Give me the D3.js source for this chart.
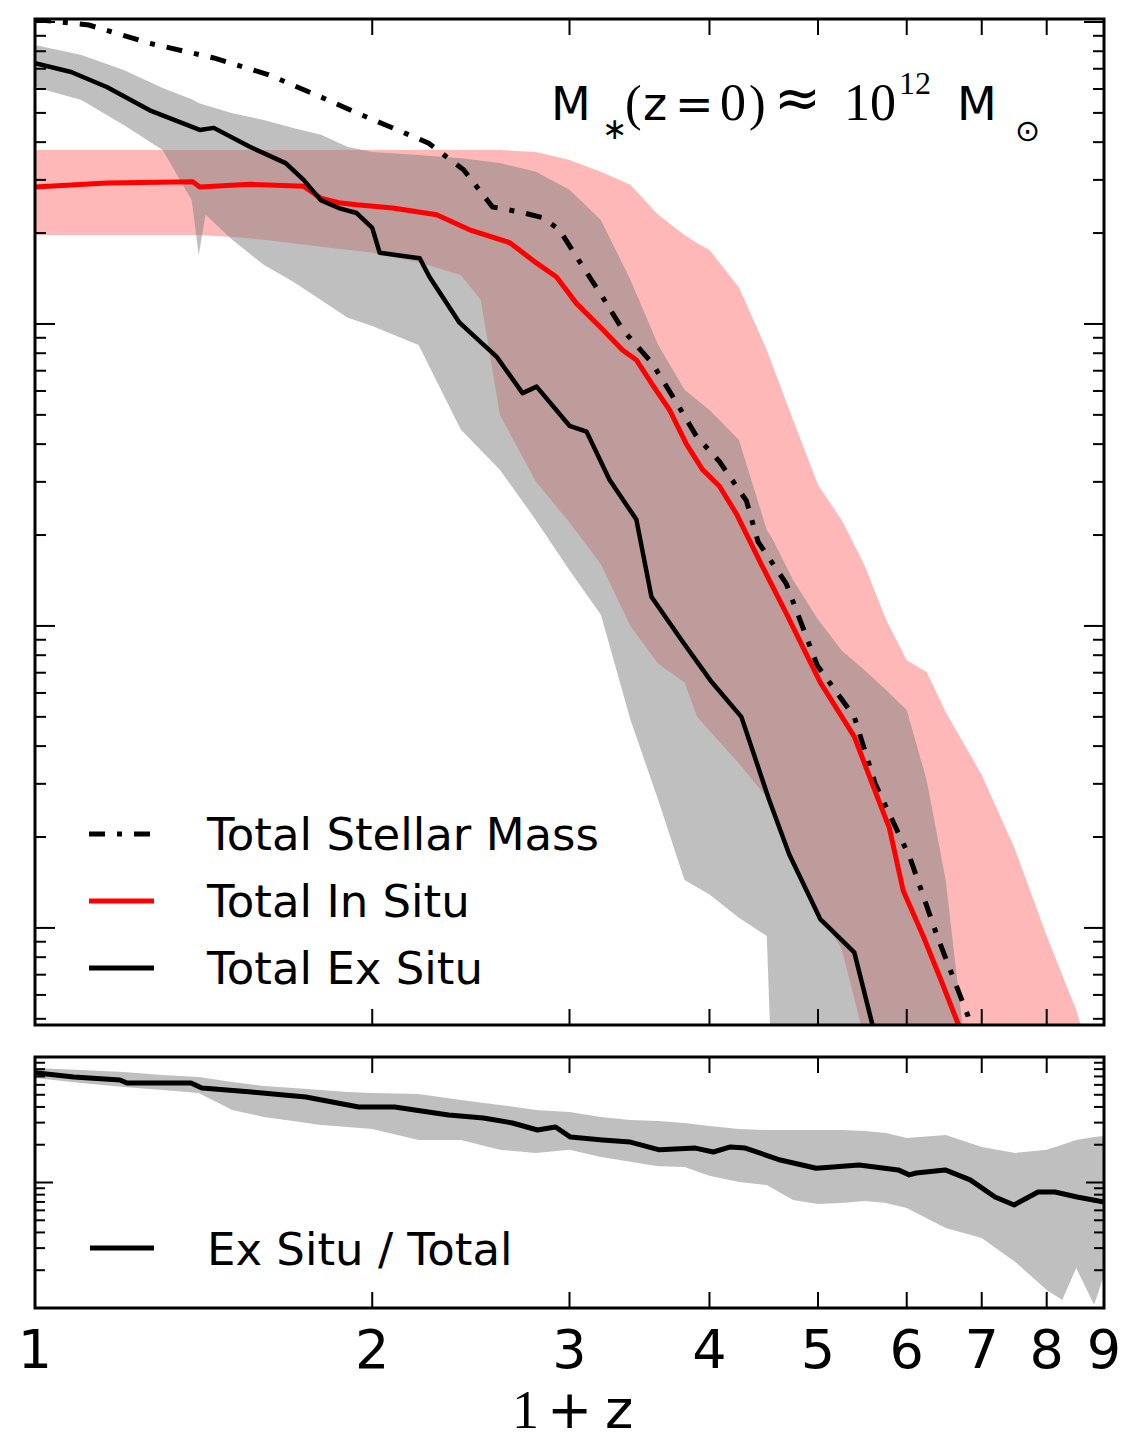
<!DOCTYPE html>
<html>
<head>
<meta charset="utf-8">
<script src="https://cdn.jsdelivr.net/npm/d3@7"></script>
<style>
  body { margin: 0; background: #fff; }
  svg { display: block; }
</style>
</head>
<body>
<svg id="chart"></svg>
<script>
// x is 1+z, masses in units of 1e10 Msun
const totalMass = [
  [1.0, 102], [1.117, 97.7], [1.266, 85], [1.444, 76], [1.614, 67], [1.799, 56.5],
  [1.937, 50], [2.056, 45.6], [2.246, 39.7], [2.413, 32.4], [2.561, 24.4], [2.707, 23.5],
  [2.838, 22.5], [2.939, 20.5], [3.043, 16.7], [3.21, 12.3], [3.345, 9.6], [3.557, 7.4],
  [3.737, 5.5], [3.894, 4.25], [4.083, 3.5], [4.315, 2.6], [4.42, 1.9], [4.684, 1.38],
  [4.992, 0.74], [5.387, 0.5], [5.624, 0.3], [6.043, 0.17], [6.387, 0.094], [6.807, 0.051],
  [6.9, 0.042],
];

const inSitu = [
  [1.0, 28.4], [1.159, 29.3], [1.383, 29.6], [1.403, 28.4], [1.555, 29], [1.737, 28.6],
  [1.799, 26.1], [1.867, 25.2], [1.937, 24.8], [2.086, 24.2], [2.283, 23.0], [2.443, 20.5],
  [2.652, 18.6], [2.804, 15.9], [2.921, 14.3], [3.043, 11.7], [3.21, 9.6], [3.345, 8.2],
  [3.442, 7.6], [3.557, 6.3], [3.684, 5.2], [3.815, 4.0], [3.942, 3.3], [4.083, 2.9],
  [4.228, 2.35], [4.45, 1.6], [4.684, 1.1], [5.023, 0.65], [5.387, 0.43], [5.59, 0.3],
  [5.788, 0.215], [5.956, 0.133], [6.206, 0.094], [6.44, 0.067], [6.67, 0.048], [6.8, 0.04],
];

const exSitu = [
  [1.0, 73], [1.077, 68.3], [1.159, 60.9], [1.266, 51], [1.403, 43.9], [1.444, 44.6],
  [1.555, 38.6], [1.674, 34.1], [1.737, 30], [1.799, 25.7], [1.867, 24.2], [1.937, 23.3],
  [2.0, 20.8], [2.031, 17.2], [2.205, 16.5], [2.25, 14.3], [2.393, 10.1], [2.582, 7.8],
  [2.724, 5.9], [2.804, 6.2], [3.0, 4.6], [3.107, 4.4], [3.257, 3.05], [3.442, 2.25],
  [3.55, 1.25], [3.783, 0.89], [4.008, 0.66], [4.271, 0.5], [4.515, 0.27], [4.713, 0.175],
  [5.023, 0.107], [5.387, 0.083], [5.59, 0.048], [5.65, 0.035],
];

// [1+z, low, high]
const inSituRange = [
  [1.0, 19.7, 37.7], [1.1, 19.7, 37.7], [1.2, 19.7, 37.7], [1.3, 19.7, 37.7],
  [1.4, 19.7, 37.7], [1.5, 19.4, 37.7], [1.6, 19.0, 37.7], [1.7, 18.5, 37.7],
  [1.8, 18.0, 37.7], [1.9, 17.6, 37.7], [2.0, 17.2, 37.7], [2.2, 16.0, 37.7],
  [2.4, 14.5, 37.7], [2.5, 12.0, 37.7], [2.6, 5.0, 37.7], [2.8, 3.0, 37.1],
  [3.0, 2.2, 34.9], [3.2, 1.6, 31.9], [3.4, 1.0, 28.9], [3.6, 0.75, 23.0],
  [3.8, 0.65, 19.7], [3.9, 0.5, 18.5], [4.0, 0.45, 17.6], [4.25, 0.35, 13.2],
  [4.5, 0.27, 8.2], [4.75, 0.168, 4.81], [5.0, 0.115, 2.93], [5.25, 0.085, 2.24],
  [5.5, 0.043, 1.59], [5.75, 0.03, 1.05], [6.0, 0.03, 0.77], [6.25, 0.03, 0.704],
  [6.5, 0.03, 0.519], [7.0, 0.03, 0.321], [7.5, 0.03, 0.181], [8.0, 0.03, 0.094],
  [8.5, 0.03, 0.0535], [8.7, 0.03, 0.04],
];

const exSituRange = [
  [1.0, 60.9, 83.9], [1.1, 55.2, 77.7], [1.2, 45.6, 69.3], [1.3, 37.7, 60.5],
  [1.38, 25.7, 55.5], [1.4, 16.9, 53.9], [1.42, 23.0, 53], [1.5, 19.0, 49.9],
  [1.6, 15.7, 47.4], [1.7, 13.8, 44.6], [1.8, 12.0, 42.3], [1.9, 10.5, 38.6],
  [2.0, 9.85, 37.1], [2.2, 8.52, 36.3], [2.4, 4.46, 35.4], [2.6, 3.29, 34.1],
  [2.8, 2.24, 31.9], [3.0, 1.53, 27.8], [3.2, 1.09, 22.1], [3.4, 0.49, 14.0],
  [3.6, 0.265, 8.52], [3.8, 0.144, 6.05], [4.0, 0.129, 5.19], [4.25, 0.108, 4.13],
  [4.5, 0.094, 2.08], [4.55, 0.03, 1.95], [4.75, 0.03, 1.42], [5.0, 0.03, 1.05],
  [5.25, 0.03, 0.83], [5.5, 0.03, 0.715], [5.75, 0.03, 0.614], [6.0, 0.03, 0.527],
  [6.25, 0.03, 0.309], [6.5, 0.03, 0.144], [6.75, 0.03, 0.043],
];

const exFraction = [
  [1.0, 0.75], [1.083, 0.693], [1.191, 0.656], [1.208, 0.621], [1.378, 0.621],
  [1.409, 0.566], [1.561, 0.526], [1.745, 0.48], [1.945, 0.4], [2.094, 0.4],
  [2.34, 0.345], [2.514, 0.327], [2.668, 0.298], [2.809, 0.262], [2.915, 0.277],
  [3.006, 0.23], [3.21, 0.218], [3.4, 0.21], [3.609, 0.182], [3.886, 0.188],
  [4.032, 0.175], [4.176, 0.192], [4.306, 0.188], [4.627, 0.151], [4.982, 0.13],
  [5.441, 0.138], [5.896, 0.126], [6.031, 0.115], [6.117, 0.119], [6.493, 0.126],
  [6.836, 0.105], [7.194, 0.0766], [7.482, 0.0662], [7.859, 0.084], [8.138, 0.084],
  [8.516, 0.0766], [9.0, 0.07],
];

const exFractionRange = [
  [1.0, 0.68, 0.817], [1.1, 0.621, 0.788], [1.2, 0.577, 0.759], [1.3, 0.546, 0.719],
  [1.4, 0.517, 0.693], [1.5, 0.378, 0.632], [1.6, 0.333, 0.587], [1.7, 0.309, 0.566],
  [1.8, 0.287, 0.546], [1.9, 0.277, 0.526], [2.0, 0.267, 0.517], [2.2, 0.218, 0.507],
  [2.4, 0.218, 0.454], [2.6, 0.182, 0.415], [2.8, 0.172, 0.378], [3.0, 0.182, 0.365],
  [3.2, 0.16, 0.333], [3.4, 0.146, 0.315], [3.6, 0.135, 0.309], [3.8, 0.133, 0.298],
  [4.0, 0.113, 0.282], [4.25, 0.101, 0.267], [4.5, 0.0955, 0.262], [4.75, 0.0726, 0.262],
  [5.0, 0.0674, 0.262], [5.25, 0.0687, 0.262], [5.5, 0.0712, 0.257], [5.75, 0.0687, 0.248],
  [6.0, 0.0626, 0.226], [6.5, 0.0434, 0.239], [7.0, 0.0361, 0.192], [7.5, 0.0233, 0.172],
  [8.0, 0.0139, 0.182], [8.26, 0.0116, 0.2], [8.5, 0.0208, 0.218], [8.82, 0.0106, 0.23],
  [9.0, 0.0183, 0.235],
];

const xTickLabels = ["1", "2", "3", "4", "5", "6", "7", "8", "9"];
const legendUpper = ["Total Stellar Mass", "Total In Situ", "Total Ex Situ"];
const legendLower = ["Ex Situ / Total"];

const sans = "'DejaVu Sans', sans-serif";
const serif = "'Liberation Serif', 'DejaVu Serif', serif";
const dashDot = "16,12,5,12";

const size = { width: 1128, height: 1443 };
const upperBox = { left: 35, right: 1104, top: 19, bottom: 1025 };
const lowerBox = { left: 35, right: 1104, top: 1057, bottom: 1308 };

const svg = d3.select("#chart").attr("width", size.width).attr("height", size.height);
svg.append("rect").attr("width", size.width).attr("height", size.height).attr("fill", "#fff");

const x = d3.scaleLog().domain([1, 9]).range([upperBox.left, upperBox.right]);
const yUpper = d3.scaleLog().domain([0.0477, 102.3]).range([upperBox.bottom, upperBox.top]);
const yLower = d3.scaleLog().domain([0.01, 1]).range([lowerBox.bottom, lowerBox.top]);

const defs = svg.append("defs");
[["clipUpper", upperBox], ["clipLower", lowerBox]].forEach(([id, b]) => {
  defs.append("clipPath").attr("id", id)
    .append("rect")
    .attr("x", b.left).attr("y", b.top)
    .attr("width", b.right - b.left).attr("height", b.bottom - b.top);
});

const band = (y) => d3.area().x((d) => x(d[0])).y0((d) => y(d[1])).y1((d) => y(d[2]));
const curve = (y) => d3.line().x((d) => x(d[0])).y((d) => y(d[1]));

// upper panel
const up = svg.append("g").attr("clip-path", "url(#clipUpper)");

up.append("path").datum(inSituRange).attr("d", band(yUpper))
  .attr("fill", "#ff0000").attr("fill-opacity", 0.28);
up.append("path").datum(exSituRange).attr("d", band(yUpper))
  .attr("fill", "#808080").attr("fill-opacity", 0.5);

up.append("path").datum(totalMass).attr("d", curve(yUpper))
  .attr("fill", "none").attr("stroke", "#000").attr("stroke-width", 5)
  .attr("stroke-dasharray", dashDot);
up.append("path").datum(inSitu).attr("d", curve(yUpper))
  .attr("fill", "none").attr("stroke", "#ff0000").attr("stroke-width", 5)
  .attr("stroke-linejoin", "round");
up.append("path").datum(exSitu).attr("d", curve(yUpper))
  .attr("fill", "none").attr("stroke", "#000").attr("stroke-width", 4.5)
  .attr("stroke-linejoin", "round");

// lower panel
const low = svg.append("g").attr("clip-path", "url(#clipLower)");

low.append("path").datum(exFractionRange).attr("d", band(yLower))
  .attr("fill", "#808080").attr("fill-opacity", 0.5);
low.append("path").datum(exFraction).attr("d", curve(yLower))
  .attr("fill", "none").attr("stroke", "#000").attr("stroke-width", 5)
  .attr("stroke-linejoin", "round");

// ticks + frames
const drawFrame = (box, y, majorLen, minorLen) => {
  const g = svg.append("g").attr("stroke", "#000").attr("stroke-width", 2);
  x.ticks().forEach((v) => {
    g.append("line").attr("x1", x(v)).attr("x2", x(v))
      .attr("y1", box.top).attr("y2", box.top + 16);
    g.append("line").attr("x1", x(v)).attr("x2", x(v))
      .attr("y1", box.bottom).attr("y2", box.bottom - 16);
  });
  y.ticks().forEach((v) => {
    const lg = Math.log10(v);
    const len = Math.abs(lg - Math.round(lg)) < 1e-6 ? majorLen : minorLen;
    g.append("line").attr("x1", box.left).attr("x2", box.left + len)
      .attr("y1", y(v)).attr("y2", y(v));
    g.append("line").attr("x1", box.right).attr("x2", box.right - len)
      .attr("y1", y(v)).attr("y2", y(v));
  });
  svg.append("rect")
    .attr("x", box.left).attr("y", box.top)
    .attr("width", box.right - box.left).attr("height", box.bottom - box.top)
    .attr("fill", "none").attr("stroke", "#000").attr("stroke-width", 3);
};
drawFrame(upperBox, yUpper, 20, 11);
drawFrame(lowerBox, yLower, 18, 10);

// x tick labels
svg.append("g").selectAll("text").data(x.ticks())
  .join("text")
  .attr("x", (d) => x(d)).attr("y", 1368)
  .attr("text-anchor", "middle")
  .style("font-family", sans).style("font-size", "54px")
  .text((d, i) => xTickLabels[i]);

// axis title 1+z
const xTitle = [
  { t: "1", x: 512, font: serif },
  { t: "+", x: 547, font: sans },
  { t: "z", x: 605, font: sans },
];
xTitle.forEach((p) => {
  svg.append("text").attr("x", p.x).attr("y", 1428)
    .style("font-family", p.font).style("font-size", "54px").text(p.t);
});

// legends
const legendStyles = [
  { stroke: "#000", dash: dashDot },
  { stroke: "#ff0000", dash: null },
  { stroke: "#000", dash: null },
];
legendUpper.forEach((label, i) => {
  const yMid = 834 + i * 67;
  svg.append("line")
    .attr("x1", 89).attr("x2", 154).attr("y1", yMid).attr("y2", yMid)
    .attr("stroke", legendStyles[i].stroke).attr("stroke-width", 5)
    .attr("stroke-dasharray", legendStyles[i].dash);
  svg.append("text").attr("x", 207).attr("y", yMid + 16)
    .style("font-family", sans).style("font-size", "45px").text(label);
});
legendLower.forEach((label) => {
  svg.append("line")
    .attr("x1", 90).attr("x2", 154).attr("y1", 1248).attr("y2", 1248)
    .attr("stroke", "#000").attr("stroke-width", 5);
  svg.append("text").attr("x", 207).attr("y", 1265)
    .style("font-family", sans).style("font-size", "45px").text(label);
});

// annotation M*(z=0) ~ 1e12 Msun
const note = [
  { t: "M", x: 551, y: 120, font: sans, s: 46 },
  { t: "\u2217", x: 602, y: 139, font: sans, s: 30 },
  { t: "(", x: 625, y: 120, font: serif, s: 50 },
  { t: "z", x: 643, y: 120, font: sans, s: 46 },
  { t: "=", x: 675, y: 120, font: sans, s: 46 },
  { t: "0", x: 720, y: 120, font: serif, s: 52 },
  { t: ")", x: 749, y: 120, font: serif, s: 50 },
  { t: "\u2248", x: 774, y: 117, font: sans, s: 56 },
  { t: "10", x: 844, y: 120, font: serif, s: 52 },
  { t: "12", x: 899, y: 94, font: serif, s: 32 },
  { t: "M", x: 957, y: 120, font: sans, s: 46 },
  { t: "\u2299", x: 1015, y: 141, font: sans, s: 30 },
];
note.forEach((p) => {
  svg.append("text").attr("x", p.x).attr("y", p.y)
    .style("font-family", p.font).style("font-size", p.s + "px").text(p.t);
});
</script>
</body>
</html>
